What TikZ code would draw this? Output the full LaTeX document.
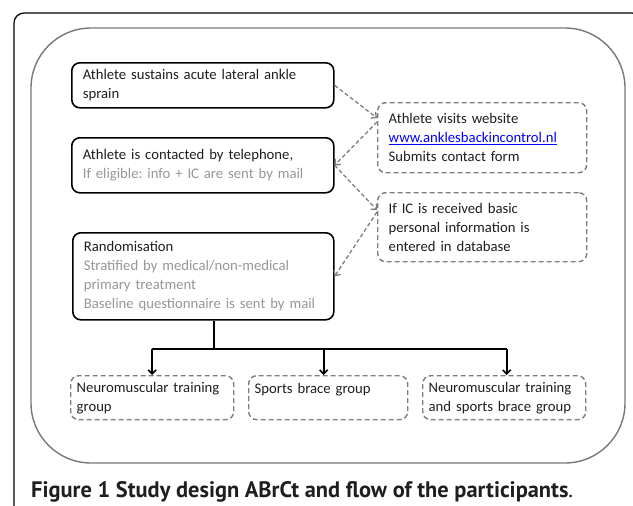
\documentclass[tikz,border=0pt]{standalone}
\usepackage{fontspec}
\setmainfont[WordSpace=0.65]{Carlito}
\newfontfamily\capfont{PT Sans}
\usetikzlibrary{arrows.meta}
\definecolor{txtgray}{RGB}{150,150,150}
\definecolor{boxgray}{RGB}{125,125,125}
\definecolor{framegray}{RGB}{120,120,120}
\definecolor{linkblue}{RGB}{0,0,255}
\definecolor{txtblack}{RGB}{30,30,30}
\newcommand\bodyfnt{\fontsize{14.7}{19}\selectfont}
\frenchspacing
\tikzset{
  boxbase/.style={anchor=north west, align=left, inner ysep=0pt, font=\bodyfnt, text=txtblack, rounded corners=8pt},
  solidbox/.style={boxbase, draw=black, line width=1.6pt, inner xsep=11pt},
  dashbox/.style={boxbase, draw=boxgray, line width=1.4pt, dash pattern=on 5pt off 3pt, inner xsep=11pt},
  groupbox/.style={dashbox, inner xsep=6pt},
  dasharrow/.style={draw=boxgray, line width=1.3pt, dash pattern=on 4pt off 2.5pt, -{Straight Barb[length=4pt,width=8pt,line width=1.3pt]}},
  tree/.style={draw=black, line width=1.6pt},
  treearrow/.style={tree, -{Straight Barb[length=4pt,width=8pt,line width=1.6pt]}}
}
\begin{document}
\begin{tikzpicture}[x=1pt,y=-1pt]
\useasboundingbox (0,0) rectangle (633,506);
\clip (0,0) rectangle (633,506);
% outer frame
\draw[line width=1.2pt, rounded corners=10pt] (14,13) rectangle (642,530);
% inner frame
\draw[framegray, line width=1.4pt, rounded corners=60pt] (31,28) rectangle (625,463);

\node[solidbox, text width=240pt, minimum height=45pt] (b1) at (71,62)
  {Athlete sustains acute lateral ankle\\sprain};
\node[solidbox, text width=240pt, minimum height=55pt] (b2) at (71,137)
  {Athlete is contacted by telephone,\\\textcolor{txtgray}{If eligible: info + IC are sent by mail}};
\node[solidbox, text width=239pt, minimum height=87pt] (b3) at (72,232)
  {Randomisation\\\textcolor{txtgray}{Stratified by medical/non-medical}\\\textcolor{txtgray}{primary treatment}\\\textcolor{txtgray}{Baseline questionnaire is sent by mail}};

\node[dashbox, text width=187pt, minimum height=70pt] (bA) at (377,102)
  {Athlete visits website\\\textcolor{linkblue}{\underline{www.anklesbackincontrol.nl}}\\Submits contact form};
\node[dashbox, text width=187pt, minimum height=69pt] (bB) at (377,192)
  {If IC is received basic\\personal information is\\entered in database};

\node[groupbox, text width=151pt, minimum height=44pt] (g1) at (70,375)
  {Neuromuscular training\\group};
\node[groupbox, text width=147pt, minimum height=44pt] (g2) at (248,375)
  {Sports brace group\\\mbox{}};
\node[groupbox, text width=151pt, minimum height=44pt] (g3) at (422,375)
  {Neuromuscular training\\and sports brace group};

\draw[dasharrow] (b1.east) -- ([yshift=-16pt]bA.north west);
\draw[dasharrow] ([yshift=-20pt]bA.north west) -- (b2.east);
\draw[dasharrow] (b2.east) -- ([yshift=-18pt]bB.north west);
\draw[dasharrow] ([yshift=-20pt]bB.north west) -- (b3.east);

\coordinate (split) at (214,349);
\draw[tree] (b3.south -| split) -- (split);
\draw[tree] (g1.north |- split) -- ([xshift=2.5pt]g3.north |- split);
\draw[treearrow] (g1.north |- split) -- (g1.north);
\draw[treearrow] ([xshift=-4.5pt]g2.north |- split) -- ([xshift=-4.5pt]g2.north);
\draw[treearrow] ([xshift=2.5pt]g3.north |- split) -- ([xshift=2.5pt]g3.north);

\node[anchor=base west, inner sep=0pt, font=\capfont\bfseries\fontsize{22.4}{22.4}\selectfont, text=txtblack] (cap) at (31,497)
  {Figure 1 Study design ABrCt and flow of the participants{\mdseries.}};
\end{tikzpicture}
\end{document}
